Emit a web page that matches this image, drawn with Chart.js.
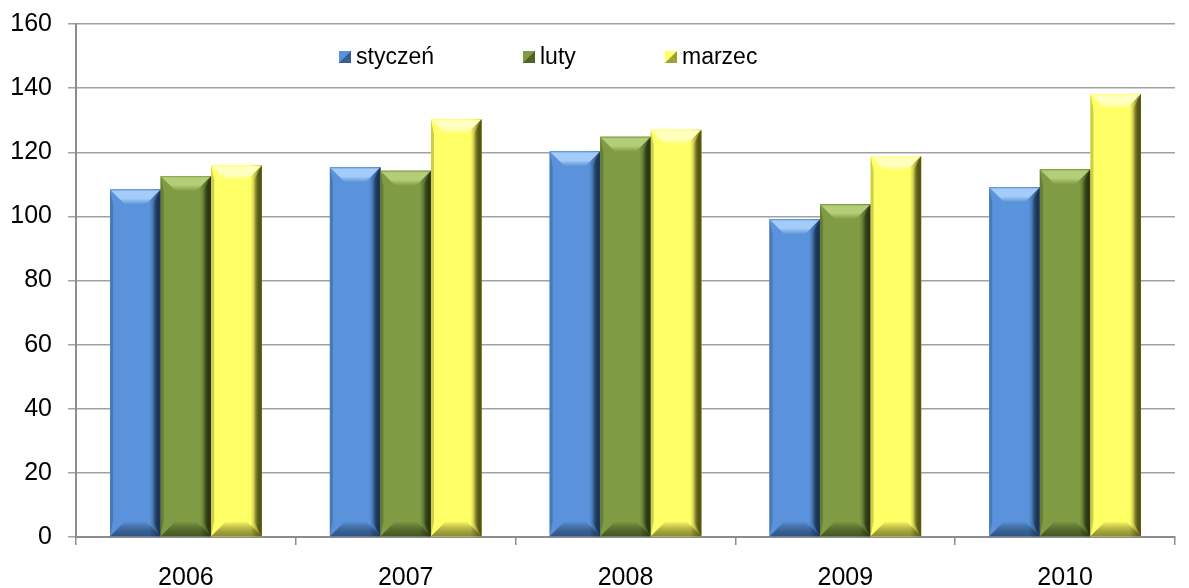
<!DOCTYPE html>
<html>
<head>
<meta charset="utf-8">
<script src="https://cdn.jsdelivr.net/npm/chart.js@4.4.0/dist/chart.umd.min.js"></script>
<style>
  html, body { margin: 0; padding: 0; background: #fff; }
  #wrap { width: 1189px; height: 588px; }
</style>
</head>
<body>
<div id="wrap"><canvas id="chart" width="1189" height="588"></canvas></div>
<script>
// Data
const years = ['2006', '2007', '2008', '2009', '2010'];
const seriesNames = ['styczeń', 'luty', 'marzec'];
const january = [108.4, 115.3, 120.3, 99.1, 109.1];
const february = [112.6, 114.2, 124.8, 103.8, 114.7];
const march = [115.9, 130.3, 127.0, 118.8, 138.2];

// face / light bevel / dark bevel for each series
const palette = [
  { main: '#5A93DB', light: '#A4CCF8', dark: '#1F3A62' },
  { main: '#7F9B43', light: '#B3CD78', dark: '#2F3C15' },
  { main: '#FFFF66', light: '#FFFFC0', dark: '#5E5E14' }
];

const font = 'Liberation Sans, Arial, sans-serif';

// Bevelled look on each bar, drawn from the bar elements Chart.js placed
const bevelPlugin = {
  id: 'bevel',
  afterDatasetsDraw(chart) {
    const ctx = chart.ctx;
    chart.data.datasets.forEach((ds, i) => {
      const c = palette[i];
      chart.getDatasetMeta(i).data.forEach(bar => {
        const l = bar.x - bar.width / 2;
        const r = bar.x + bar.width / 2;
        const t = bar.y;
        const b = bar.base;
        const bv = 15;
        ctx.save();
        // side shading of the face
        const g = ctx.createLinearGradient(l, 0, r, 0);
        g.addColorStop(0, c.main);
        g.addColorStop(0.78, c.main);
        g.addColorStop(1, c.dark);
        ctx.fillStyle = g;
        ctx.fillRect(l, t, r - l, b - t);
        // top bevel
        const gt = ctx.createLinearGradient(0, t, 0, t + bv);
        gt.addColorStop(0, c.main);
        gt.addColorStop(0.12, c.light);
        gt.addColorStop(0.6, c.light);
        gt.addColorStop(1, c.main);
        ctx.fillStyle = gt;
        ctx.beginPath();
        ctx.moveTo(l, t); ctx.lineTo(r, t);
        ctx.lineTo(r - bv, t + bv); ctx.lineTo(l + bv, t + bv);
        ctx.closePath(); ctx.fill();
        // right bevel
        const gr = ctx.createLinearGradient(r - 8, 0, r, 0);
        gr.addColorStop(0, 'rgba(0,0,0,0)');
        gr.addColorStop(1, c.dark);
        ctx.fillStyle = gr;
        ctx.beginPath();
        ctx.moveTo(r, t); ctx.lineTo(r, b);
        ctx.lineTo(r - 8, b - bv); ctx.lineTo(r - 8, t + bv);
        ctx.closePath(); ctx.fill();
        // bottom bevel
        const gb = ctx.createLinearGradient(0, b - bv, 0, b);
        gb.addColorStop(0, 'rgba(0,0,0,0)');
        gb.addColorStop(1, c.dark);
        ctx.fillStyle = gb;
        ctx.globalAlpha = 0.7;
        ctx.beginPath();
        ctx.moveTo(l, b); ctx.lineTo(r, b);
        ctx.lineTo(r - bv, b - bv); ctx.lineTo(l + bv, b - bv);
        ctx.closePath(); ctx.fill();
        // left bevel
        ctx.globalAlpha = 0.3;
        ctx.fillStyle = c.dark;
        ctx.beginPath();
        ctx.moveTo(l, t); ctx.lineTo(l, b);
        ctx.lineTo(l + 3, b - bv); ctx.lineTo(l + 3, t + bv);
        ctx.closePath(); ctx.fill();
        ctx.restore();
      });
    });
  }
};

// Legend sits inside the plot area, near the top
const innerLegend = {
  id: 'innerLegend',
  afterDraw(chart) {
    const ctx = chart.ctx;
    const xs = [339, 523, 665];
    const y = 57;
    ctx.save();
    ctx.font = '23px ' + font;
    ctx.textBaseline = 'middle';
    chart.data.datasets.forEach((ds, i) => {
      const c = palette[i];
      const x = xs[i];
      ctx.fillStyle = c.main;
      ctx.fillRect(x, y - 6, 12, 12);
      ctx.fillStyle = c.dark;
      ctx.globalAlpha = 0.6;
      ctx.beginPath();
      ctx.moveTo(x + 12, y - 6); ctx.lineTo(x + 12, y + 6); ctx.lineTo(x + 6, y);
      ctx.closePath(); ctx.fill();
      ctx.beginPath();
      ctx.moveTo(x, y + 6); ctx.lineTo(x + 12, y + 6); ctx.lineTo(x + 6, y);
      ctx.closePath(); ctx.fill();
      ctx.globalAlpha = 1;
      ctx.fillStyle = '#000';
      ctx.fillText(ds.label, x + 17, y + 1);
    });
    ctx.restore();
  }
};

const datasets = [january, february, march].map((values, i) => ({
  label: seriesNames[i],
  data: values,
  backgroundColor: palette[i].main,
  borderWidth: 0,
  barPercentage: 1,
  categoryPercentage: 0.69
}));

new Chart(document.getElementById('chart'), {
  type: 'bar',
  data: { labels: years, datasets },
  options: {
    responsive: false,
    animation: false,
    layout: { padding: { top: 24, right: 14, left: 0, bottom: 0 } },
    plugins: {
      legend: { display: false },
      tooltip: { enabled: false }
    },
    scales: {
      x: {
        grid: {
          offset: true,
          drawOnChartArea: false,
          color: '#8c8c8c',
          lineWidth: 1.5,
          tickLength: 8
        },
        border: { color: '#8c8c8c', width: 2 },
        ticks: { color: '#000', font: { family: font, size: 25 }, padding: 18 },
        afterFit: s => { s.height = 51; s.paddingLeft = 0; s.paddingRight = 0; }
      },
      y: {
        min: 0,
        max: 160,
        ticks: { stepSize: 20, color: '#000', font: { family: font, size: 25 }, padding: 16 },
        grid: { color: '#a0a0a0', lineWidth: 1.5, tickLength: 8 },
        border: { color: '#8c8c8c', width: 2 },
        afterFit: s => { s.width = 76; s.paddingTop = 0; s.paddingBottom = 0; }
      }
    }
  },
  plugins: [bevelPlugin, innerLegend]
});
</script>
</body>
</html>
